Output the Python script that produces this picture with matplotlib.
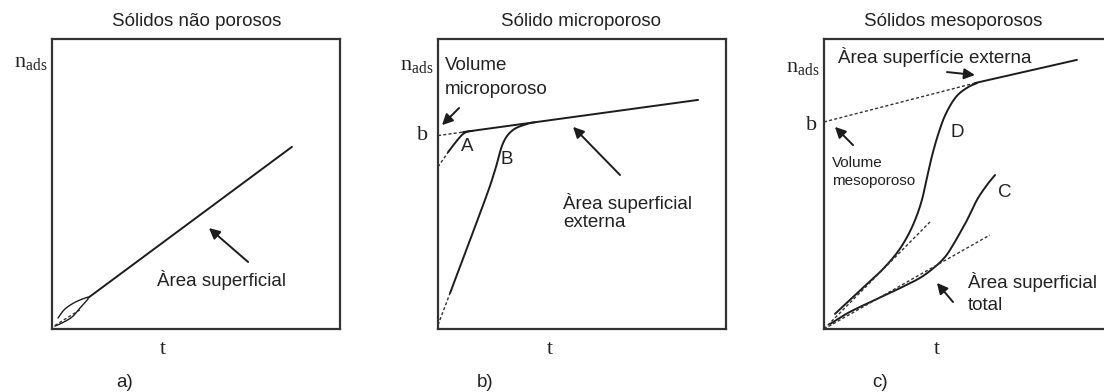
import numpy as np
import matplotlib
matplotlib.use("Agg")
import matplotlib.pyplot as plt

plt.rcParams['font.family'] = ['Liberation Sans', 'DejaVu Sans']
plt.rcParams['mathtext.fontset'] = 'custom'
plt.rcParams['mathtext.rm'] = 'Liberation Serif'

INK = '#1c1c1c'
TXT = '#222222'
DASH = (0, (2.2, 1.6))

# --- a) non porous: single straight line plus the small loop at the origin
a_line_x = [0.125, 0.833]
a_line_y = [0.107, 0.628]
a_leaf_up_x = [0.021, 0.042, 0.069, 0.097, 0.125]
a_leaf_up_y = [0.038, 0.066, 0.086, 0.100, 0.110]
a_leaf_lo_x = [0.010, 0.035, 0.069, 0.097, 0.125]
a_leaf_lo_y = [0.010, 0.021, 0.041, 0.072, 0.103]
a_leaf_mid_x = [0.010, 0.100]
a_leaf_mid_y = [0.012, 0.068]

# --- b) microporous
b_ext_x = [0.087, 0.903]
b_ext_y = [0.679, 0.790]
b_ext_dash_x = [0.0, 0.087]
b_ext_dash_y = [0.667, 0.679]
b_A_dash_x = [0.0, 0.035]
b_A_dash_y = [0.559, 0.610]
b_A_x = [0.035, 0.059, 0.083, 0.101, 0.120]
b_A_y = [0.610, 0.641, 0.669, 0.680, 0.683]
b_B_dash_x = [0.0, 0.042]
b_B_dash_y = [0.014, 0.124]
b_B_x = [0.042, 0.163, 0.198, 0.226, 0.260, 0.309, 0.337]
b_B_y = [0.124, 0.445, 0.548, 0.641, 0.686, 0.707, 0.713]

# --- c) mesoporous
c_ext_x = [0.524, 0.878]
c_ext_y = [0.848, 0.928]
c_ext_dash_x = [0.0, 0.524]
c_ext_dash_y = [0.714, 0.848]
c_D_x = [0.038, 0.090, 0.149, 0.201, 0.253, 0.290, 0.318, 0.340, 0.356,
         0.374, 0.396, 0.422, 0.458, 0.497, 0.531]
c_D_y = [0.052, 0.100, 0.155, 0.203, 0.262, 0.320, 0.380, 0.445, 0.515,
         0.593, 0.670, 0.740, 0.800, 0.832, 0.848]
c_D_tan_x = [0.0, 0.368]
c_D_tan_y = [0.0, 0.369]
c_C_x = [0.021, 0.090, 0.177, 0.264, 0.333, 0.385, 0.420, 0.444, 0.472,
         0.497, 0.531, 0.566, 0.594]
c_C_y = [0.017, 0.059, 0.100, 0.141, 0.176, 0.214, 0.248, 0.283, 0.331,
         0.376, 0.445, 0.497, 0.531]
c_C_tan_x = [0.0, 0.576]
c_C_tan_y = [0.0, 0.324]

titles = ['Sólidos não porosos', 'Sólido microporoso', 'Sólidos mesoporosos']
title_x = [0.503, 0.497, 0.448]
panel_tags = ['a)', 'b)', 'c)']
tag_x = [0.253, 0.163, 0.194]
t_x = [0.385, 0.389, 0.392]
nads_y = [0.903, 0.893, 0.886]

fig = plt.figure(figsize=(11.04, 3.92), dpi=100)
lefts = [52 / 1104, 438 / 1104, 824 / 1104]
axes = []
for left in lefts:
    ax = fig.add_axes([left, 63 / 392, 288 / 1104, 290 / 392])
    ax.set_xlim(0, 1)
    ax.set_ylim(0, 1)
    ax.set_xticks([])
    ax.set_yticks([])
    for sp in ax.spines.values():
        sp.set_color('#333333')
        sp.set_linewidth(1.6)
    axes.append(ax)


def smooth(xs, ys, steps=20):
    # Catmull-Rom spline through the given points
    xs = np.asarray(xs, float)
    ys = np.asarray(ys, float)
    out_x, out_y = [], []
    t = np.linspace(0, 1, steps, endpoint=False)
    for i in range(len(xs) - 1):
        p0 = max(i - 1, 0)
        p3 = min(i + 2, len(xs) - 1)
        for arr, out in ((xs, out_x), (ys, out_y)):
            a0, a1, a2, a3 = arr[p0], arr[i], arr[i + 1], arr[p3]
            out.extend(0.5 * ((2 * a1) + (-a0 + a2) * t
                              + (2 * a0 - 5 * a1 + 4 * a2 - a3) * t ** 2
                              + (-a0 + 3 * a1 - 3 * a2 + a3) * t ** 3))
    out_x.append(xs[-1])
    out_y.append(ys[-1])
    return np.array(out_x), np.array(out_y)


def curve(ax, xs, ys, lw=1.4):
    sx, sy = smooth(xs, ys)
    ax.plot(sx, sy, color=INK, lw=lw, solid_capstyle='round', clip_on=False)


def dashed(ax, xs, ys):
    ax.plot(xs, ys, color='#333333', lw=1.0, ls=DASH, clip_on=False)


def arrow(ax, start, tip):
    ax.annotate('', xy=tip, xytext=start,
                arrowprops=dict(arrowstyle='-|>', color=INK, lw=1.4,
                                mutation_scale=16, shrinkA=0, shrinkB=0))


sans = dict(color=TXT, fontsize=13.5)

# panel a
ax = axes[0]
curve(ax, a_line_x, a_line_y)
curve(ax, a_leaf_up_x, a_leaf_up_y, lw=1.0)
curve(ax, a_leaf_lo_x, a_leaf_lo_y, lw=1.0)
dashed(ax, a_leaf_mid_x, a_leaf_mid_y)
arrow(ax, (0.681, 0.231), (0.545, 0.348))
ax.text(0.365, 0.150, 'Àrea superficial', ha='left', va='baseline', **sans)

# panel b
ax = axes[1]
curve(ax, b_ext_x, b_ext_y)
dashed(ax, b_ext_dash_x, b_ext_dash_y)
dashed(ax, b_A_dash_x, b_A_dash_y)
curve(ax, b_A_x, b_A_y)
dashed(ax, b_B_dash_x, b_B_dash_y)
curve(ax, b_B_x, b_B_y)
ax.text(0.101, 0.628, 'A', ha='center', va='center', **sans)
ax.text(0.240, 0.583, 'B', ha='center', va='center', **sans)
ax.text(0.024, 0.893, 'Volume', ha='left', va='baseline', **sans)
ax.text(0.024, 0.810, 'microporoso', ha='left', va='baseline', **sans)
arrow(ax, (0.073, 0.762), (0.014, 0.703))
ax.text(0.434, 0.414, 'Àrea superficial', ha='left', va='baseline', **sans)
ax.text(0.434, 0.352, 'externa', ha='left', va='baseline', **sans)
arrow(ax, (0.632, 0.531), (0.469, 0.697))
ax.text(-0.052, 0.652, 'b', ha='center', va='baseline', color=TXT,
        fontsize=16, family='Liberation Serif')

# panel c
ax = axes[2]
curve(ax, c_ext_x, c_ext_y)
dashed(ax, c_ext_dash_x, c_ext_dash_y)
curve(ax, c_D_x, c_D_y)
dashed(ax, c_D_tan_x, c_D_tan_y)
curve(ax, c_C_x, c_C_y)
dashed(ax, c_C_tan_x, c_C_tan_y)
ax.text(0.462, 0.676, 'D', ha='center', va='center', **sans)
ax.text(0.628, 0.472, 'C', ha='center', va='center', **sans)
ax.text(0.028, 0.559, 'Volume', ha='left', va='baseline', color=TXT, fontsize=11)
ax.text(0.028, 0.497, 'mesoporoso', ha='left', va='baseline', color=TXT, fontsize=11)
arrow(ax, (0.101, 0.634), (0.038, 0.697))
ax.text(0.049, 0.917, 'Àrea superfície externa', ha='left', va='baseline', **sans)
arrow(ax, (0.427, 0.886), (0.524, 0.876))
ax.text(0.500, 0.141, 'Àrea superficial', ha='left', va='baseline', **sans)
ax.text(0.500, 0.066, 'total', ha='left', va='baseline', **sans)
arrow(ax, (0.448, 0.093), (0.392, 0.159))
ax.text(-0.042, 0.686, 'b', ha='center', va='baseline', color=TXT,
        fontsize=16, family='Liberation Serif')

# shared labels
for ax, title, tx, tag, gx, tt, ny in zip(axes, titles, title_x, panel_tags,
                                          tag_x, t_x, nads_y):
    ax.text(tx, 1.045, title, ha='center', va='baseline', color=TXT, fontsize=13.5)
    ax.text(gx, -0.200, tag, ha='center', va='baseline', color=TXT, fontsize=13.5)
    ax.text(tt, -0.086, 't', ha='center', va='baseline', color=TXT,
            fontsize=16, family='Liberation Serif')
    ax.text(-0.017, ny, r'$\mathrm{n}_{\mathrm{ads}}$', ha='right', va='baseline',
            color=TXT, fontsize=16)

fig.savefig('out.png', dpi=100)
